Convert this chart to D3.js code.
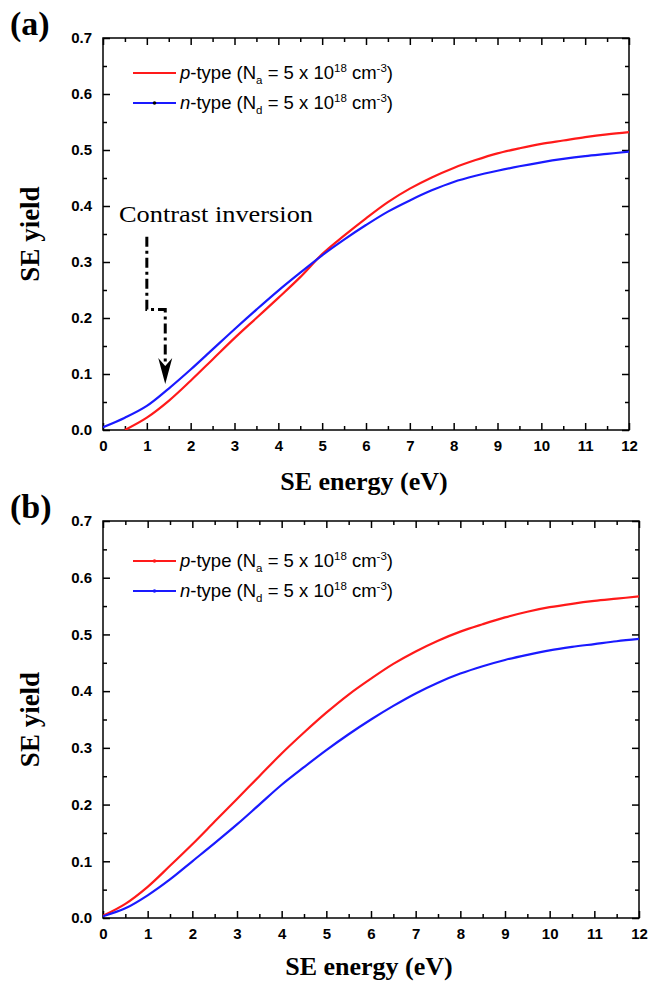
<!DOCTYPE html>
<html><head><meta charset="utf-8">
<script src="https://cdn.jsdelivr.net/npm/d3@7"></script>
<style>
body{margin:0;background:#fff;}
svg{display:block;}
.tick text{font-family:"Liberation Sans",Arial,sans-serif;font-weight:bold;font-size:15px;fill:#000;}
</style></head>
<body>
<svg id="chart" width="650" height="984"></svg>
<script>
// ---- data ----
const xTicks = [0,1,2,3,4,5,6,7,8,9,10,11,12];
const yTicks = [0.0,0.1,0.2,0.3,0.4,0.5,0.6,0.7];

// Panel (a)
const energyA_p = [0.5,1,1.5,2,2.5,3,3.5,4,4.5,5,5.5,6,6.5,7,7.5,8,8.5,9,9.5,10,10.5,11,11.5,12];
const pTypeA    = [0.0,0.022,0.052,0.088,0.126,0.164,0.200,0.236,0.273,0.314,0.347,0.378,0.407,0.431,0.451,0.468,0.482,0.494,0.503,0.511,0.517,0.523,0.528,0.532];
const energyA_n = [0,0.5,1,1.5,2,2.5,3,3.5,4,4.5,5,5.5,6,6.5,7,7.5,8,8.5,9,9.5,10,10.5,11,11.5,12];
const nTypeA    = [0.005,0.022,0.043,0.074,0.108,0.144,0.180,0.215,0.249,0.281,0.312,0.340,0.366,0.390,0.410,0.428,0.443,0.454,0.463,0.471,0.478,0.484,0.489,0.493,0.497];

// Panel (b)
const energyB = [0,0.5,1,1.5,2,2.5,3,3.5,4,4.5,5,5.5,6,6.5,7,7.5,8,8.5,9,9.5,10,10.5,11,11.5,12];
const pTypeB  = [0.004,0.025,0.055,0.092,0.130,0.170,0.210,0.250,0.290,0.327,0.362,0.394,0.422,0.448,0.470,0.489,0.505,0.518,0.530,0.540,0.548,0.554,0.559,0.563,0.567];
const nTypeB  = [0.003,0.017,0.040,0.068,0.100,0.132,0.165,0.200,0.235,0.266,0.296,0.324,0.350,0.374,0.396,0.415,0.431,0.444,0.455,0.464,0.472,0.478,0.483,0.488,0.492];

const legendLabels = [
  {it:"p", rest:"-type (N", sub:"a"},
  {it:"n", rest:"-type (N", sub:"d"}
];

const RED = "#ff1a1a", BLUE = "#1a1aff";

const svg = d3.select("#chart");

function drawPanel(cfg){
  const x = d3.scaleLinear().domain([0,12]).range([cfg.left, cfg.right]);
  const y = d3.scaleLinear().domain([0,0.7]).range([cfg.bottom, cfg.top]);
  const g = svg.append("g");

  g.append("rect").attr("x",cfg.left).attr("y",cfg.top)
    .attr("width",cfg.right-cfg.left).attr("height",cfg.bottom-cfg.top)
    .attr("fill","none").attr("stroke","#000").attr("stroke-width",1.5);

  const minorX = d3.range(0.5,12,1);
  const minorY = d3.range(0.05,0.7,0.1);

  function axisGroup(axis, tx, ty){
    const a = g.append("g").attr("transform",`translate(${tx},${ty})`).call(axis);
    a.select(".domain").remove();
    a.selectAll(".tick line").attr("stroke","#000").attr("stroke-width",1.5);
    return a;
  }
  axisGroup(d3.axisBottom(x).tickValues(xTicks).tickSize(-7).tickPadding(10).tickFormat(d3.format("d")), 0, cfg.bottom);
  axisGroup(d3.axisBottom(x).tickValues(minorX).tickSize(-4).tickFormat(""), 0, cfg.bottom);
  axisGroup(d3.axisTop(x).tickValues(xTicks).tickSize(-7).tickFormat(""), 0, cfg.top);
  axisGroup(d3.axisTop(x).tickValues(minorX).tickSize(-4).tickFormat(""), 0, cfg.top);
  axisGroup(d3.axisLeft(y).tickValues(yTicks).tickSize(-7).tickPadding(11).tickFormat(d3.format(".1f")), cfg.left, 0);
  axisGroup(d3.axisLeft(y).tickValues(minorY).tickSize(-4).tickFormat(""), cfg.left, 0);
  axisGroup(d3.axisRight(y).tickValues(yTicks).tickSize(-7).tickFormat(""), cfg.right, 0);
  axisGroup(d3.axisRight(y).tickValues(minorY).tickSize(-4).tickFormat(""), cfg.right, 0);

  const line = d3.line().x(d=>x(d[0])).y(d=>y(d[1])).curve(d3.curveCatmullRom.alpha(0.5));
  const clip = "clip"+cfg.id;
  g.append("clipPath").attr("id",clip).append("rect")
    .attr("x",cfg.left).attr("y",cfg.top).attr("width",cfg.right-cfg.left).attr("height",cfg.bottom-cfg.top);
  cfg.series.forEach(s=>{
    g.append("path").datum(d3.zip(s.x,s.y))
      .attr("d",line).attr("fill","none").attr("stroke",s.color)
      .attr("stroke-width",2.2).attr("clip-path",`url(#${clip})`);
  });

  cfg.series.forEach((s,i)=>{
    const ly = cfg.legendY + i*30;
    g.append("line").attr("x1",133).attr("x2",176).attr("y1",ly).attr("y2",ly)
      .attr("stroke",s.color).attr("stroke-width",2);
    if (s.dot) g.append("circle").attr("cx",154.5).attr("cy",ly).attr("r",1.8).attr("fill",s.dot);
    const lab = legendLabels[i];
    const t = g.append("text").attr("x",180).attr("y",ly+6)
      .attr("font-family","Liberation Sans,Arial,sans-serif").attr("font-size",18.5).attr("fill","#000");
    t.append("tspan").attr("font-style","italic").text(lab.it);
    t.append("tspan").text(lab.rest);
    t.append("tspan").attr("font-size",11.5).attr("dy",5).text(lab.sub);
    t.append("tspan").attr("dy",-5).text(" = 5 x 10");
    t.append("tspan").attr("font-size",11.5).attr("dy",-7).text("18");
    t.append("tspan").attr("dy",7).text(" cm");
    t.append("tspan").attr("font-size",11.5).attr("dy",-7).text("-3");
    t.append("tspan").attr("dy",7).text(")");
  });

  g.append("text").attr("transform",`translate(${cfg.left-64},${(cfg.top+cfg.bottom)/2}) rotate(-90)`)
    .attr("text-anchor","middle").attr("font-family","Liberation Serif,Times New Roman,serif")
    .attr("font-weight","bold").attr("font-size",27).text("SE yield");
  g.append("text").attr("x",(cfg.left+cfg.right)/2 - 2).attr("y",cfg.bottom+cfg.titleDy)
    .attr("text-anchor","middle").attr("font-family","Liberation Serif,Times New Roman,serif")
    .attr("font-weight","bold").attr("font-size",26).text("SE energy (eV)");
  g.append("text").attr("x",10).attr("y",cfg.top-3)
    .attr("font-family","Liberation Serif,Times New Roman,serif")
    .attr("font-weight","bold").attr("font-size",34).text(cfg.label);
  return {x,y,g};
}

const pa = drawPanel({id:"a", label:"(a)", left:103, right:629, top:38, bottom:430, legendY:73, titleDy:60,
  series:[{x:energyA_p,y:pTypeA,color:RED},{x:energyA_n,y:nTypeA,color:BLUE,dot:"#000"}]});
const pb = drawPanel({id:"b", label:"(b)", left:103, right:639, top:521, bottom:918, legendY:561, titleDy:57,
  series:[{x:energyB,y:pTypeB,color:RED,dot:RED},{x:energyB,y:nTypeB,color:BLUE,dot:BLUE}]});

// annotation on panel (a)
const ax = pa.x, ay = pa.y;
pa.g.append("text").attr("x",119).attr("y",222)
  .attr("font-family","Liberation Serif,Times New Roman,serif").attr("font-size",23)
  .attr("textLength",194).attr("lengthAdjust","spacingAndGlyphs").text("Contrast inversion");
const arrowPts = [[1.0,0.345],[1.0,0.215],[1.42,0.215],[1.42,0.12]];
pa.g.append("path").datum(arrowPts)
  .attr("d",d3.line().x(d=>ax(d[0])).y(d=>ay(d[1])))
  .attr("fill","none").attr("stroke","#000").attr("stroke-width",3)
  .attr("stroke-dasharray","10,4,3,4");
const tip = [ax(1.42), ay(0.082)];
pa.g.append("path")
  .attr("d",`M${tip[0]},${tip[1]} L${tip[0]-7},${tip[1]-26} L${tip[0]},${tip[1]-18} L${tip[0]+7},${tip[1]-26} Z`)
  .attr("fill","#000");
</script>
</body></html>
